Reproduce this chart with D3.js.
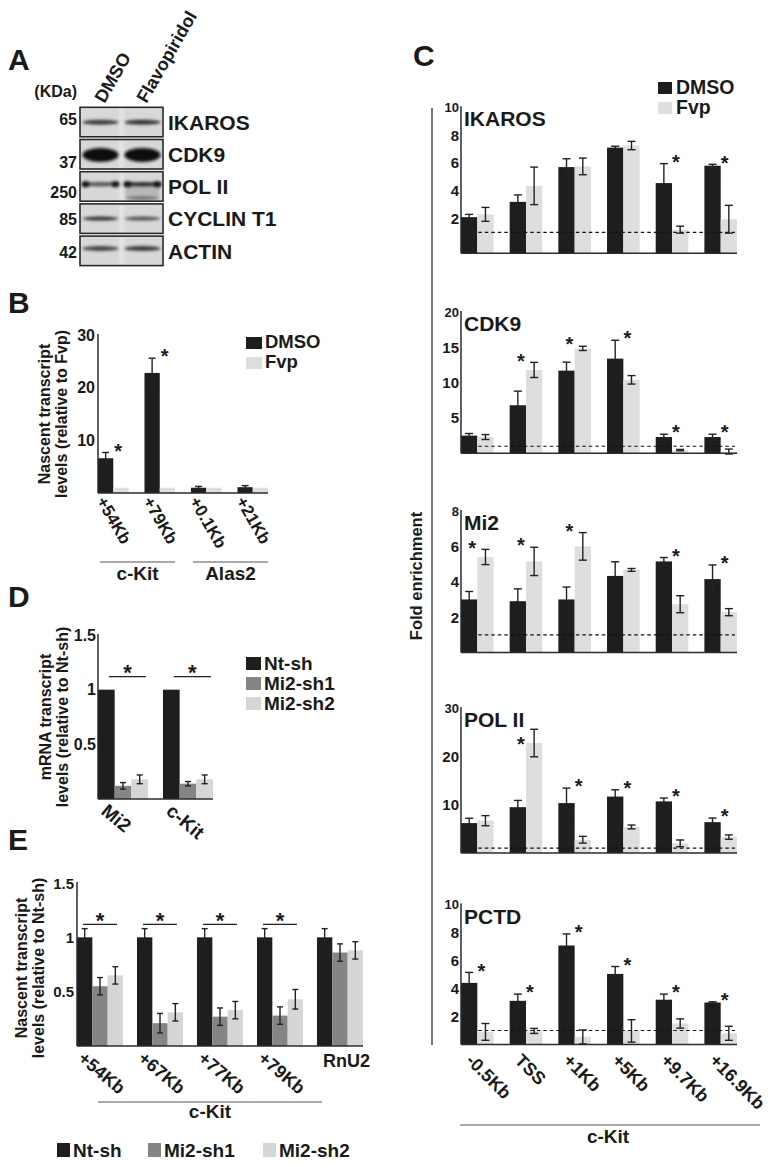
<!DOCTYPE html>
<html><head><meta charset="utf-8">
<script src="https://cdn.jsdelivr.net/npm/d3@7"></script>
<style>
body{margin:0;background:#fff;}
svg{display:block;}
</style></head><body>
<script>
// ---------------- DATA ----------------
// Panel A (western blot)
const blotProteins = ["IKAROS","CDK9","POL II","CYCLIN T1","ACTIN"];
const blotKDa = ["65","37","250","85","42"];
const blotLanes = ["DMSO","Flavopiridol"];

// Panel B
const bSites = ["+54Kb","+79Kb","+0.1Kb","+21Kb"];
const bGenes = ["c-Kit","Alas2"];
const bDMSO = [6.6, 22.8, 1.0, 1.1];
const bDMSOErr = [1.1, 2.8, 0.25, 0.3];
const bFvp = [1, 1, 1, 1];
const bStars = [1, 1, 0, 0];
const bTicks = [10, 20, 30];

// Panel C
const cSites = ["-0.5Kb","TSS","+1Kb","+5Kb","+9.7Kb","+16.9Kb"];
const ikarosDMSO = [2.1, 3.2, 5.7, 7.1, 4.55, 5.8];
const ikarosDMSOErr = [0.2, 0.5, 0.6, 0.1, 1.4, 0.1];
const ikarosFvp = [2.3, 4.35, 5.75, 7.25, 1.2, 1.95];
const ikarosFvpErr = [0.5, 1.35, 0.6, 0.3, 0.25, 1.0];
const ikarosStars = [0,0,0,0,1,1];
const ikarosTicks = [2,4,6,8,10];

const cdk9DMSO = [2.5, 6.8, 11.7, 13.4, 2.3, 2.3];
const cdk9DMSOErr = [0.3, 2.0, 1.2, 2.6, 0.4, 0.4];
const cdk9Fvp = [2.3, 11.8, 14.85, 10.4, 0.45, 0.25];
const cdk9FvpErr = [0.35, 1.07, 0.3, 0.6, 0.1, 0.35];
const cdk9Stars = [0,1,1,1,1,1];
const cdk9Ticks = [5,10,15,20];

const mi2DMSO = [3.0, 2.9, 3.0, 4.33, 5.15, 4.15];
const mi2DMSOErr = [0.45, 0.7, 0.7, 0.8, 0.22, 0.8];
const mi2Fvp = [5.4, 5.15, 6.0, 4.67, 2.73, 2.28];
const mi2FvpErr = [0.43, 0.8, 0.78, 0.08, 0.48, 0.2];
const mi2Stars = [1,1,1,0,1,1];
const mi2Ticks = [2,4,6,8];

const pol2DMSO = [6.2, 9.5, 10.35, 11.7, 10.7, 6.4];
const pol2DMSOErr = [1.0, 1.4, 3.1, 1.4, 0.7, 0.85];
const pol2Fvp = [6.7, 22.8, 2.75, 5.4, 2.0, 3.3];
const pol2FvpErr = [1.05, 2.85, 0.7, 0.4, 0.7, 0.45];
const pol2Stars = [0,1,1,1,1,1];
const pol2Ticks = [10,20,30];

const pctdDMSO = [4.4, 3.12, 7.07, 5.04, 3.2, 3.0];
const pctdDMSOErr = [0.75, 0.48, 0.83, 0.53, 0.4, 0.05];
const pctdFvp = [0.9, 0.97, 0.54, 0.97, 1.5, 0.8];
const pctdFvpErr = [0.6, 0.18, 0.5, 0.8, 0.33, 0.5];
const pctdStars = [1,1,1,1,1,1];
const pctdTicks = [2,4,6,8,10];

// Panel D
const dGenes = ["Mi2","c-Kit"];
const dNt = [1, 1];
const dSh1 = [0.12, 0.14];
const dSh1Err = [0.03, 0.02];
const dSh2 = [0.18, 0.18];
const dSh2Err = [0.04, 0.04];
const dStars = [1, 1];
const dTicks = [0.5, 1, 1.5];

// Panel E
const eSites = ["+54Kb","+67Kb","+77Kb","+79Kb","RnU2"];
const eNt = [1, 1, 1, 1, 1];
const eNtErr = [0.08, 0.08, 0.08, 0.08, 0.08];
const eSh1 = [0.55, 0.21, 0.27, 0.28, 0.86];
const eSh1Err = [0.08, 0.09, 0.08, 0.08, 0.08];
const eSh2 = [0.65, 0.31, 0.33, 0.43, 0.88];
const eSh2Err = [0.08, 0.08, 0.08, 0.09, 0.08];
const eStars = [1, 1, 1, 1, 0];
const eTicks = [0.5, 1, 1.5];

const shLegend = ["Nt-sh","Mi2-sh1","Mi2-sh2"];
const fvpLegend = ["DMSO","Fvp"];

// ---------------- STYLE ----------------
const FONT = '"Liberation Sans", Arial, Helvetica, sans-serif';
const C_DARK="#1e1e1e", C_LIGHT="#dedede", C_MID="#858585", C_SH2="#d6d6d6";
const C_AX="#2b2b2b", C_GRP="#8c8c8c", C_TXT="#1a1a1a";

const svg = d3.select("body").append("svg").attr("width",773).attr("height",1166)
  .style("font-family",FONT).style("font-weight","bold");

function text(g,x,y,s,size,anchor="start",rot=null){
  const t=g.append("text").attr("font-size",size).attr("text-anchor",anchor).attr("fill",C_TXT).text(s);
  if(rot!==null) t.attr("transform",`translate(${x},${y}) rotate(${rot})`); else t.attr("x",x).attr("y",y);
  return t;
}
function line(g,x1,y1,x2,y2,col=C_AX,w=1.5){
  return g.append("line").attr("x1",x1).attr("y1",y1).attr("x2",x2).attr("y2",y2)
    .attr("stroke",col).attr("stroke-width",w);
}
function bars(g,cats,series,xr,pad,y){
  const x0=d3.scaleBand().domain(cats).range(xr).paddingInner(pad).paddingOuter(0);
  const x1=d3.scaleBand().domain(d3.range(series.length)).range([0,x0.bandwidth()]);
  const base=y(y.domain()[0]);
  series.forEach((s,si)=>{
    g.append("g").selectAll("rect").data(s.values).join("rect")
      .attr("x",(v,i)=>x0(cats[i])+x1(si)).attr("width",x1.bandwidth())
      .attr("y",v=>y(v)).attr("height",v=>base-y(v)).attr("fill",s.color);
  });
  return {x0,x1,base};
}
function errs(g,cats,series,sc,y,cap){
  series.forEach((s,si)=>{
    if(!s.errs) return;
    const eg=g.append("g").attr("stroke","#222").attr("stroke-width",1.4);
    s.values.forEach((v,i)=>{
      const e=s.errs[i]; if(!e) return;
      const cx=sc.x0(cats[i])+sc.x1(si)+sc.x1.bandwidth()/2;
      const y1=y(v+e), y2=y(v-e);
      eg.append("line").attr("x1",cx).attr("x2",cx).attr("y1",y1).attr("y2",y2);
      eg.append("line").attr("x1",cx-cap/2).attr("x2",cx+cap/2).attr("y1",y1).attr("y2",y1);
      eg.append("line").attr("x1",cx-cap/2).attr("x2",cx+cap/2).attr("y1",y2).attr("y2",y2);
    });
  });
}
function ylabel2(g,xa,xb,yc,l1,l2,size){
  text(g,xa,yc,l1,size,"middle",-90);
  text(g,xb,yc,l2,size,"middle",-90);
}
function star(g,x,yc,size=20){ text(g,x,yc+size*0.56,"*",size,"middle"); }

// ---------------- PANEL LETTERS ----------------
[["A",8,70],["B",8,313],["C",413,66],["D",8,607],["E",8,850]].forEach(d=>text(svg,d[1],d[2],d[0],30));

// ---------------- PANEL A ----------------
(function(){
  const g=svg.append("g");
  const defs=svg.append("defs");
  defs.append("filter").attr("id","bl").attr("x","-30%").attr("y","-100%").attr("width","160%").attr("height","300%")
    .append("feGaussianBlur").attr("stdDeviation",1.5);
  const bx=80, bw=83, top0=107.3, pitch=32.2, rh=29.5;
  const laneC=[100.5,142.5];
  // band appearance per row: [cyOffset, thickness, [colorLane0,colorLane1]]
  const bandStyle=[[15,5,["#3a3a3a","#333"]],[15.5,14,["#111","#0d0d0d"]],[12.5,4.5,["#555","#2a2a2a"]],
                   [14.7,4,["#2e2e2e","#505050"]],[12.5,5,["#444","#383838"]]];
  const kdaOff=[17.7,28,26.6,20.7,22.3];
  text(g,77,97,"(KDa)",16,"end");
  blotLanes.forEach((l,i)=>text(g,laneC[i]+4,104,l,18,"start",-60));
  blotProteins.forEach((p,r)=>{
    const yt=top0+r*pitch;
    const cp=defs.append("clipPath").attr("id","cp"+r);
    cp.append("rect").attr("x",bx).attr("y",yt).attr("width",bw).attr("height",rh);
    g.append("rect").attr("x",bx).attr("y",yt).attr("width",bw).attr("height",rh).attr("fill","#d8d8d8");
    const bg=g.append("g").attr("clip-path",`url(#cp${r})`);
    bg.append("rect").attr("x",laneC[0]+19).attr("y",yt).attr("width",4).attr("height",rh).attr("fill","#e6e6e6").attr("filter","url(#bl)");
    const st=bandStyle[r];
    if(r===2){
      bg.append("rect").attr("x",laneC[1]-17).attr("y",yt+st[0]).attr("width",34).attr("height",13).attr("fill","#b8b8b8").attr("filter","url(#bl)");
      bg.append("ellipse").attr("cx",laneC[1]).attr("cy",yt+26.5).attr("rx",17).attr("ry",2).attr("fill","#6a6a6a").attr("filter","url(#bl)");
    }
    laneC.forEach((cx,li)=>{
      bg.append("ellipse").attr("cx",cx).attr("cy",yt+st[0]).attr("rx",18).attr("ry",st[1]/2)
        .attr("fill",st[2][li]).attr("filter","url(#bl)");
    });
    if(r===2){
      [laneC[0]-15,laneC[0]+15,laneC[1]-15,laneC[1]+15].forEach(cx=>bg.append("ellipse").attr("cx",cx).attr("cy",yt+st[0]).attr("rx",4).attr("ry",3).attr("fill","#151515").attr("filter","url(#bl)"));
    }
    g.append("rect").attr("x",bx).attr("y",yt).attr("width",bw).attr("height",rh).attr("fill","none")
      .attr("stroke","#2a2a2a").attr("stroke-width",1.6);
    text(g,168,yt+22.5,p,21);
    text(g,77,yt+kdaOff[r],blotKDa[r],16,"end");
  });
})();

// ---------------- PANEL B ----------------
(function(){
  const g=svg.append("g");
  const y=d3.scaleLinear().domain([0,30]).range([493,335]);
  const series=[{values:bDMSO,errs:bDMSOErr,color:C_DARK},{values:bFvp,color:C_LIGHT}];
  const sc=bars(g,bSites,series,[98,268],0.343,y);
  errs(g,bSites,series,sc,y,7);
  line(g,98,y(30)-1,98,sc.base); line(g,98,sc.base,268,sc.base);
  bTicks.forEach(t=>text(g,95,y(t)+5.5,t,16,"end"));
  bSites.forEach((c,i)=>{
    if(bStars[i]) star(g,sc.x0(c)+sc.x1.bandwidth()+5,y(bDMSO[i]+bDMSOErr[i])-6,20);
    text(g,sc.x0(c)-2,sc.base+8,c,17,"start",60);
  });
  [[0,1],[2,3]].forEach((pr,k)=>{
    const xa=sc.x0(bSites[pr[0]])+2, xb=sc.x0(bSites[pr[1]])+sc.x0.bandwidth();
    line(g,xa,562,xb,562,C_GRP,1.5);
    text(g,(xa+xb)/2,580,bGenes[k],19,"middle");
  });
  ylabel2(g,50,67,414,"Nascent transcript","levels (relative to Fvp)",16);
  [C_DARK,C_LIGHT].forEach((c,i)=>{
    g.append("rect").attr("x",246).attr("y",337+i*20).attr("width",16).attr("height",12).attr("fill",c);
    text(g,265,347.5+i*20,fvpLegend[i],18.5);
  });
})();

// ---------------- PANEL C ----------------
(function(){
  const g=svg.append("g");
  const cPanels=[
    {name:"IKAROS",d:ikarosDMSO,de:ikarosDMSOErr,f:ikarosFvp,fe:ikarosFvpErr,s:ikarosStars,t:ikarosTicks,min:-0.5},
    {name:"CDK9",d:cdk9DMSO,de:cdk9DMSOErr,f:cdk9Fvp,fe:cdk9FvpErr,s:cdk9Stars,t:cdk9Ticks,min:0},
    {name:"Mi2",d:mi2DMSO,de:mi2DMSOErr,f:mi2Fvp,fe:mi2FvpErr,s:mi2Stars,t:mi2Ticks,min:0},
    {name:"POL II",d:pol2DMSO,de:pol2DMSOErr,f:pol2Fvp,fe:pol2FvpErr,s:pol2Stars,t:pol2Ticks,min:0},
    {name:"PCTD",d:pctdDMSO,de:pctdDMSOErr,f:pctdFvp,fe:pctdFvpErr,s:pctdStars,t:pctdTicks,min:0}
  ];
  const cTop=[107.3,312,511,708.3,904.5], cBase=[253.3,453.3,652.5,853,1044.5];
  const xr=[461,737];
  cPanels.forEach((p,pi)=>{
    const pg=g.append("g");
    const max=d3.max(p.t);
    const y=d3.scaleLinear().domain([p.min,max]).range([cBase[pi],cTop[pi]]);
    const series=[{values:p.d,errs:p.de,color:C_DARK},{values:p.f,errs:p.fe,color:C_LIGHT}];
    const sc=bars(pg,cSites,series,xr,0.33,y);
    pg.append("line").attr("x1",sc.x0(cSites[0])+sc.x1.bandwidth()+1).attr("x2",xr[1]-2)
      .attr("y1",y(1)).attr("y2",y(1)).attr("stroke","#111").attr("stroke-width",1.2).attr("stroke-dasharray","3.5,3");
    errs(pg,cSites,series,sc,y,8);
    line(pg,xr[0],y(max)-1,xr[0],sc.base); line(pg,xr[0],sc.base,xr[1],sc.base);
    p.t.forEach(t=>{
      const top=t===max;
      text(pg,459,y(t)+(top?4.5:5.5),t,top?13:15,"end");
    });
    const titleBase=y(max)+19;
    const title=text(pg,464,titleBase,p.name,21);
    const titleEnd=464+title.node().getComputedTextLength();
    cSites.forEach((c,i)=>{
      if(!p.s[i]) return;
      const tD=y(p.d[i]+p.de[i]), tF=y(p.f[i]+p.fe[i]);
      const bw=sc.x1.bandwidth();
      const sx= tF<tD ? sc.x0(c)+bw/2+3 : sc.x0(c)+bw+4;
      let sy=Math.min(tD,tF)-6;
      if(sx<titleEnd+6) sy=Math.max(sy,titleBase+12);
      star(pg,sx,sy,20);
    });
    if(pi===cPanels.length-1){
      cSites.forEach(c=>text(pg,sc.x0(c)+4,sc.base+17,c,18,"start",45));
    }
  });
  line(g,432,108,432,1045,"#777",2);
  text(g,422,576,"Fold enrichment",16.5,"middle",-90);
  line(g,460,1125,760,1125,C_GRP,1.5);
  text(g,608,1143,"c-Kit",19,"middle");
  [C_DARK,C_LIGHT].forEach((c,i)=>{
    g.append("rect").attr("x",658).attr("y",82+i*20).attr("width",14).attr("height",12).attr("fill",c);
    text(g,676,93.5+i*20,fvpLegend[i],19.5);
  });
})();

// ---------------- PANEL D ----------------
(function(){
  const g=svg.append("g");
  const y=d3.scaleLinear().domain([0,1.5]).range([799,635]);
  const series=[{values:dNt,color:C_DARK},{values:dSh1,errs:dSh1Err,color:C_MID},{values:dSh2,errs:dSh2Err,color:C_SH2}];
  const sc=bars(g,dGenes,series,[98,213],0.23,y);
  errs(g,dGenes,series,sc,y,6);
  line(g,98,y(1.5)-1,98,sc.base); line(g,98,sc.base,213,sc.base);
  dTicks.forEach(t=>text(g,96,y(t)+5.5,t,16,"end"));
  dGenes.forEach((c,i)=>{
    const ly=y(1)-13;
    const xa=sc.x0(c)+sc.x1.bandwidth()*0.65, xb=sc.x0(c)+sc.x0.bandwidth()-2;
    if(dStars[i]){ line(g,xa,ly,xb,ly,"#222",1.3); star(g,(xa+xb)/2,ly-9,22); }
    text(g,sc.x0(c)+2,sc.base+14,c,19,"start",40);
  });
  ylabel2(g,51,68,717,"mRNA transcript","levels (relative to Nt-sh)",16);
  [C_DARK,C_MID,C_SH2].forEach((c,i)=>{
    g.append("rect").attr("x",246).attr("y",657+i*20).attr("width",15).attr("height",13).attr("fill",c);
    text(g,264,670+i*20,shLegend[i],19);
  });
})();

// ---------------- PANEL E ----------------
(function(){
  const g=svg.append("g");
  const y=d3.scaleLinear().domain([0,1.5]).range([1046,883]);
  const series=[{values:eNt,errs:eNtErr,color:C_DARK},{values:eSh1,errs:eSh1Err,color:C_MID},{values:eSh2,errs:eSh2Err,color:C_SH2}];
  const xr=[77,363];
  const sc=bars(g,eSites,series,xr,0.233,y);
  errs(g,eSites,series,sc,y,6);
  line(g,xr[0],y(1.5)-1,xr[0],sc.base); line(g,xr[0],sc.base,xr[1],sc.base);
  eTicks.forEach(t=>text(g,74,y(t)+5.5,t,15,"end"));
  eSites.forEach((c,i)=>{
    const ly=y(1)-13;
    const xa=sc.x0(c)+6, xb=sc.x0(c)+sc.x0.bandwidth()-6;
    if(eStars[i]){ line(g,xa,ly,xb,ly,"#222",1.3); star(g,(xa+xb)/2,ly-9,22); }
    if(i<eSites.length-1) text(g,sc.x0(c),sc.base+14,c,18,"start",40);
    else text(g,sc.x0(c)+6,sc.base+21,c,18,"start");
  });
  const gx1=sc.x0(eSites[0])+21, gx2=sc.x0(eSites[eSites.length-1])+5;
  line(g,gx1,1102,gx2,1102,C_GRP,1.5);
  text(g,(gx1+gx2)/2,1118,"c-Kit",19,"middle");
  ylabel2(g,27,44,968,"Nascent transcript","levels (relative to Nt-sh)",16);
  const lx=[57,148,263];
  [C_DARK,C_MID,C_SH2].forEach((c,i)=>{
    g.append("rect").attr("x",lx[i]).attr("y",1143).attr("width",13).attr("height",14).attr("fill",c);
    text(g,lx[i]+16,1157,shLegend[i],19);
  });
})();
</script></body></html>
